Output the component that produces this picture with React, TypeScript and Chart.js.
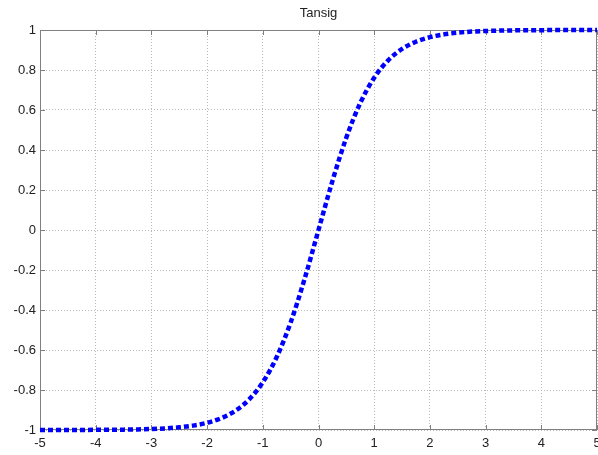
import React, { useEffect, useRef } from "react";
import { Chart, registerables } from "chart.js";

Chart.register(...registerables);

const chartTitle = "Tansig";
const xValues = [
  -5, -4.75, -4.5, -4.25, -4, -3.75, -3.5, -3.25, -3, -2.75, -2.5, -2.25, -2, -1.75, -1.5, -1.25, -1, -0.75, -0.5, -0.25,
  0, 0.25, 0.5, 0.75, 1, 1.25, 1.5, 1.75, 2, 2.25, 2.5, 2.75, 3, 3.25, 3.5, 3.75, 4, 4.25, 4.5, 4.75, 5,
];
const yValues = [
  -0.9999, -0.9999, -0.9998, -0.9996, -0.9993, -0.9989, -0.9982, -0.997, -0.9951, -0.9919, -0.9866, -0.978, -0.964,
  -0.9414, -0.9051, -0.8483, -0.7616, -0.6351, -0.4621, -0.2449, 0, 0.2449, 0.4621, 0.6351, 0.7616, 0.8483, 0.9051,
  0.9414, 0.964, 0.978, 0.9866, 0.9919, 0.9951, 0.997, 0.9982, 0.9989, 0.9993, 0.9996, 0.9998, 0.9999, 0.9999,
];
const xTicks = [-5, -4, -3, -2, -1, 0, 1, 2, 3, 4, 5];
const yTicks = [-1, -0.8, -0.6, -0.4, -0.2, 0, 0.2, 0.4, 0.6, 0.8, 1];

const FONT = "'Liberation Sans', Arial, sans-serif";

const boxPlugin = {
  id: "matlabBox",
  beforeDatasetsDraw(chart: any) {
    const { ctx, chartArea: a, scales } = chart;
    ctx.save();
    ctx.strokeStyle = "#808080";
    ctx.lineWidth = 1;
    ctx.setLineDash([]);
    ctx.strokeRect(a.left + 0.5, a.top + 0.5, a.right - a.left - 1, a.bottom - a.top - 1);
    const tl = 5;
    ctx.beginPath();
    xTicks.forEach((v) => {
      const px = Math.round(scales.x.getPixelForValue(v)) + 0.5;
      ctx.moveTo(px, a.bottom);
      ctx.lineTo(px, a.bottom - tl);
      ctx.moveTo(px, a.top);
      ctx.lineTo(px, a.top + tl);
    });
    yTicks.forEach((v) => {
      const py = Math.round(scales.y.getPixelForValue(v)) + 0.5;
      ctx.moveTo(a.left, py);
      ctx.lineTo(a.left + tl, py);
      ctx.moveTo(a.right, py);
      ctx.lineTo(a.right - tl, py);
    });
    ctx.stroke();
    ctx.restore();
  },
  afterDraw(chart: any) {
    const { ctx, chartArea: a } = chart;
    ctx.save();
    ctx.fillStyle = "#222";
    ctx.font = `13px ${FONT}`;
    ctx.textAlign = "center";
    ctx.textBaseline = "middle";
    ctx.fillText(chartTitle, (a.left + a.right) / 2, 13);
    ctx.restore();
  },
};

export default function App() {
  const ref = useRef<HTMLCanvasElement>(null);
  useEffect(() => {
    if (!ref.current) return;
    const chart = new Chart(ref.current, {
      type: "line",
      data: {
        datasets: [
          {
            data: xValues.map((x, i) => ({ x, y: yValues[i] })),
            borderColor: "#0000ff",
            borderWidth: 4.5,
            borderDash: [5, 3],
            borderCapStyle: "butt",
            pointRadius: 0,
            cubicInterpolationMode: "monotone",
            fill: false,
            clip: false,
          },
        ],
      },
      options: {
        animation: false,
        responsive: false,
        maintainAspectRatio: false,
        layout: { padding: { top: 30, right: 1, left: 0, bottom: 0 } },
        plugins: { legend: { display: false }, tooltip: { enabled: false }, title: { display: false } },
        scales: {
          x: {
            type: "linear",
            min: -5,
            max: 5,
            afterBuildTicks: (s: any) => {
              s.ticks = xTicks.map((v) => ({ value: v }));
            },
            afterFit: (s: any) => {
              s.height = 25;
              s.paddingLeft = 0;
              s.paddingRight = 0;
            },
            grid: { color: "#b8b8b8", lineWidth: 1, drawTicks: false },
            border: { display: false, dash: [1, 2] },
            ticks: {
              color: "#222",
              font: { family: FONT, size: 13 },
              padding: 6,
              maxRotation: 0,
              autoSkip: false,
              callback: (v: any) => String(v),
            },
          },
          y: {
            type: "linear",
            min: -1,
            max: 1,
            afterBuildTicks: (s: any) => {
              s.ticks = yTicks.map((v) => ({ value: v }));
            },
            afterFit: (s: any) => {
              s.width = 40;
              s.paddingTop = 0;
              s.paddingBottom = 0;
            },
            grid: { color: "#b8b8b8", lineWidth: 1, drawTicks: false },
            border: { display: false, dash: [1, 2] },
            ticks: {
              color: "#222",
              font: { family: FONT, size: 13 },
              padding: 4,
              autoSkip: false,
              callback: (v: any) => String(Number(Number(v).toFixed(1))),
            },
          },
        },
      },
      plugins: [boxPlugin],
    } as any);
    return () => chart.destroy();
  }, []);
  return (
    <div style={{ position: "fixed", left: 0, top: 0, width: 598, height: 455, background: "#fff" }}>
      <canvas ref={ref} width={598} height={455} style={{ display: "block" }} />
    </div>
  );
}
